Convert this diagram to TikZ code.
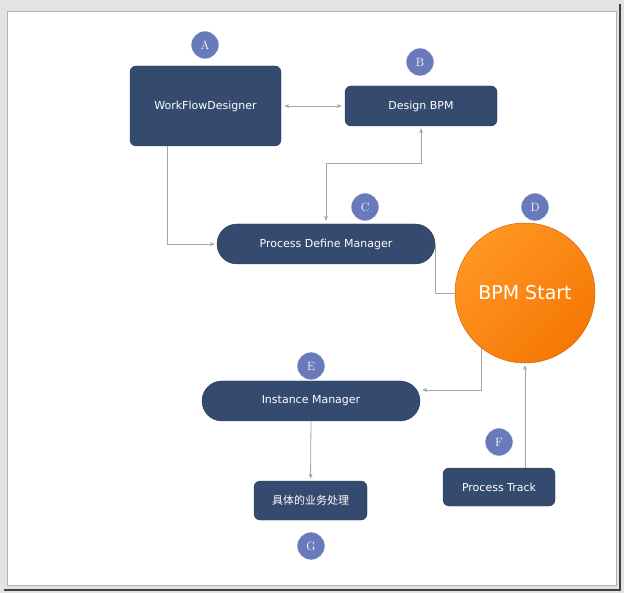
\documentclass[tikz,border=0pt]{standalone}
\usepackage{fontspec}
\usepackage{xcolor}
\usepackage{tikz}
\usetikzlibrary{arrows.meta, shadings}
\newfontfamily\boxfont{DejaVu Sans}
\newfontfamily\cjkfont{Noto Sans CJK SC}
\definecolor{boxblue}{RGB}{53,74,111}
\definecolor{tagblue}{RGB}{104,122,186}
\definecolor{linegray}{RGB}{165,165,165}
\definecolor{orlight}{RGB}{255,150,35}
\definecolor{ordark}{RGB}{246,120,5}

\begin{document}
\begin{tikzpicture}[x=1pt, y=-1pt,
  card/.style={draw=boxblue!80!black, fill=boxblue, rounded corners=6pt, inner sep=0pt,
    text=white, font=\boxfont\fontsize{11}{13}\selectfont},
  pill/.style={card, rounded corners=19.9pt},
  tag/.style={circle, fill=tagblue, draw=white, line width=0.6pt, minimum size=28pt, inner sep=0pt,
    text=white, font=\fontsize{12}{13}\selectfont},
  conn/.style={draw=linegray, line width=0.8pt},
  tip/.style={-{Stealth[length=5pt, width=4pt]}, shorten >=2pt},
  both/.style={{Stealth[length=5pt, width=4pt]}-{Stealth[length=5pt, width=4pt]},
    shorten >=3pt, shorten <=3pt}]
  % moldura
  \fill[black!11] (0,0) rectangle (624,593);
  \draw[black!75, line width=2pt] (620,4) -- (620,590) -- (4,590);
  \draw[black!30, fill=white] (7,11) rectangle (616,585);
  % caixas
  \node[card, minimum width=151pt, minimum height=80pt] (wfd) at (205.5,106) {WorkFlowDesigner};
  \node[card, minimum width=152pt, minimum height=40pt] (dbpm) at (421,106) {Design BPM};
  \node[pill, minimum width=218pt, minimum height=40pt] (pdm) at (326,244) {Process Define Manager};
  \node[pill, minimum width=218pt, minimum height=40pt] (im) at (311,401) {Instance Manager};
  \node[card, minimum width=113pt, minimum height=39pt] (biz) at (310.5,500.5) {\cjkfont 具体的业务处理};
  \node[card, minimum width=112pt, minimum height=38pt] (ptrack) at (499,487) {Process Track};
  % circulo
  \node[circle, minimum size=140pt, inner sep=0pt, draw=ordark!85!black, line width=0.5pt,
    left color=orlight, right color=ordark, shading angle=45,
    text=white, font=\boxfont\fontsize{19}{22}\selectfont] (bpm) at (525,293) {BPM Start};
  % letras
  \node[tag] (ta) at (205,45) {A};
  \node[tag] (tb) at (420,62) {B};
  \node[tag] (tc) at (365,207) {C};
  \node[tag] (td) at (535,207) {D};
  \node[tag] (te) at (311,366) {E};
  \node[tag] (tf) at (499,442) {F};
  \node[tag] (tg) at (311,546) {G};
  % ligacoes
  \draw[conn, both] (wfd.east) -- (dbpm.east -| dbpm.west);
  \draw[conn, tip] ([xshift=-38.5pt]wfd.south) |- (pdm.west);
  \draw[conn, both, shorten <=2pt] (dbpm.south) -- ++(0,37) -| (pdm.north);
  \draw[conn] (pdm.east) |- (bpm.west);
  \draw[conn, tip] (bpm.232) |- ([yshift=11pt]im.east);
  \draw[conn, tip] (ptrack.north -| bpm.south) -- (bpm.south);
  \draw[conn, tip] (im.south) -- (biz.north);
\end{tikzpicture}
\end{document}
